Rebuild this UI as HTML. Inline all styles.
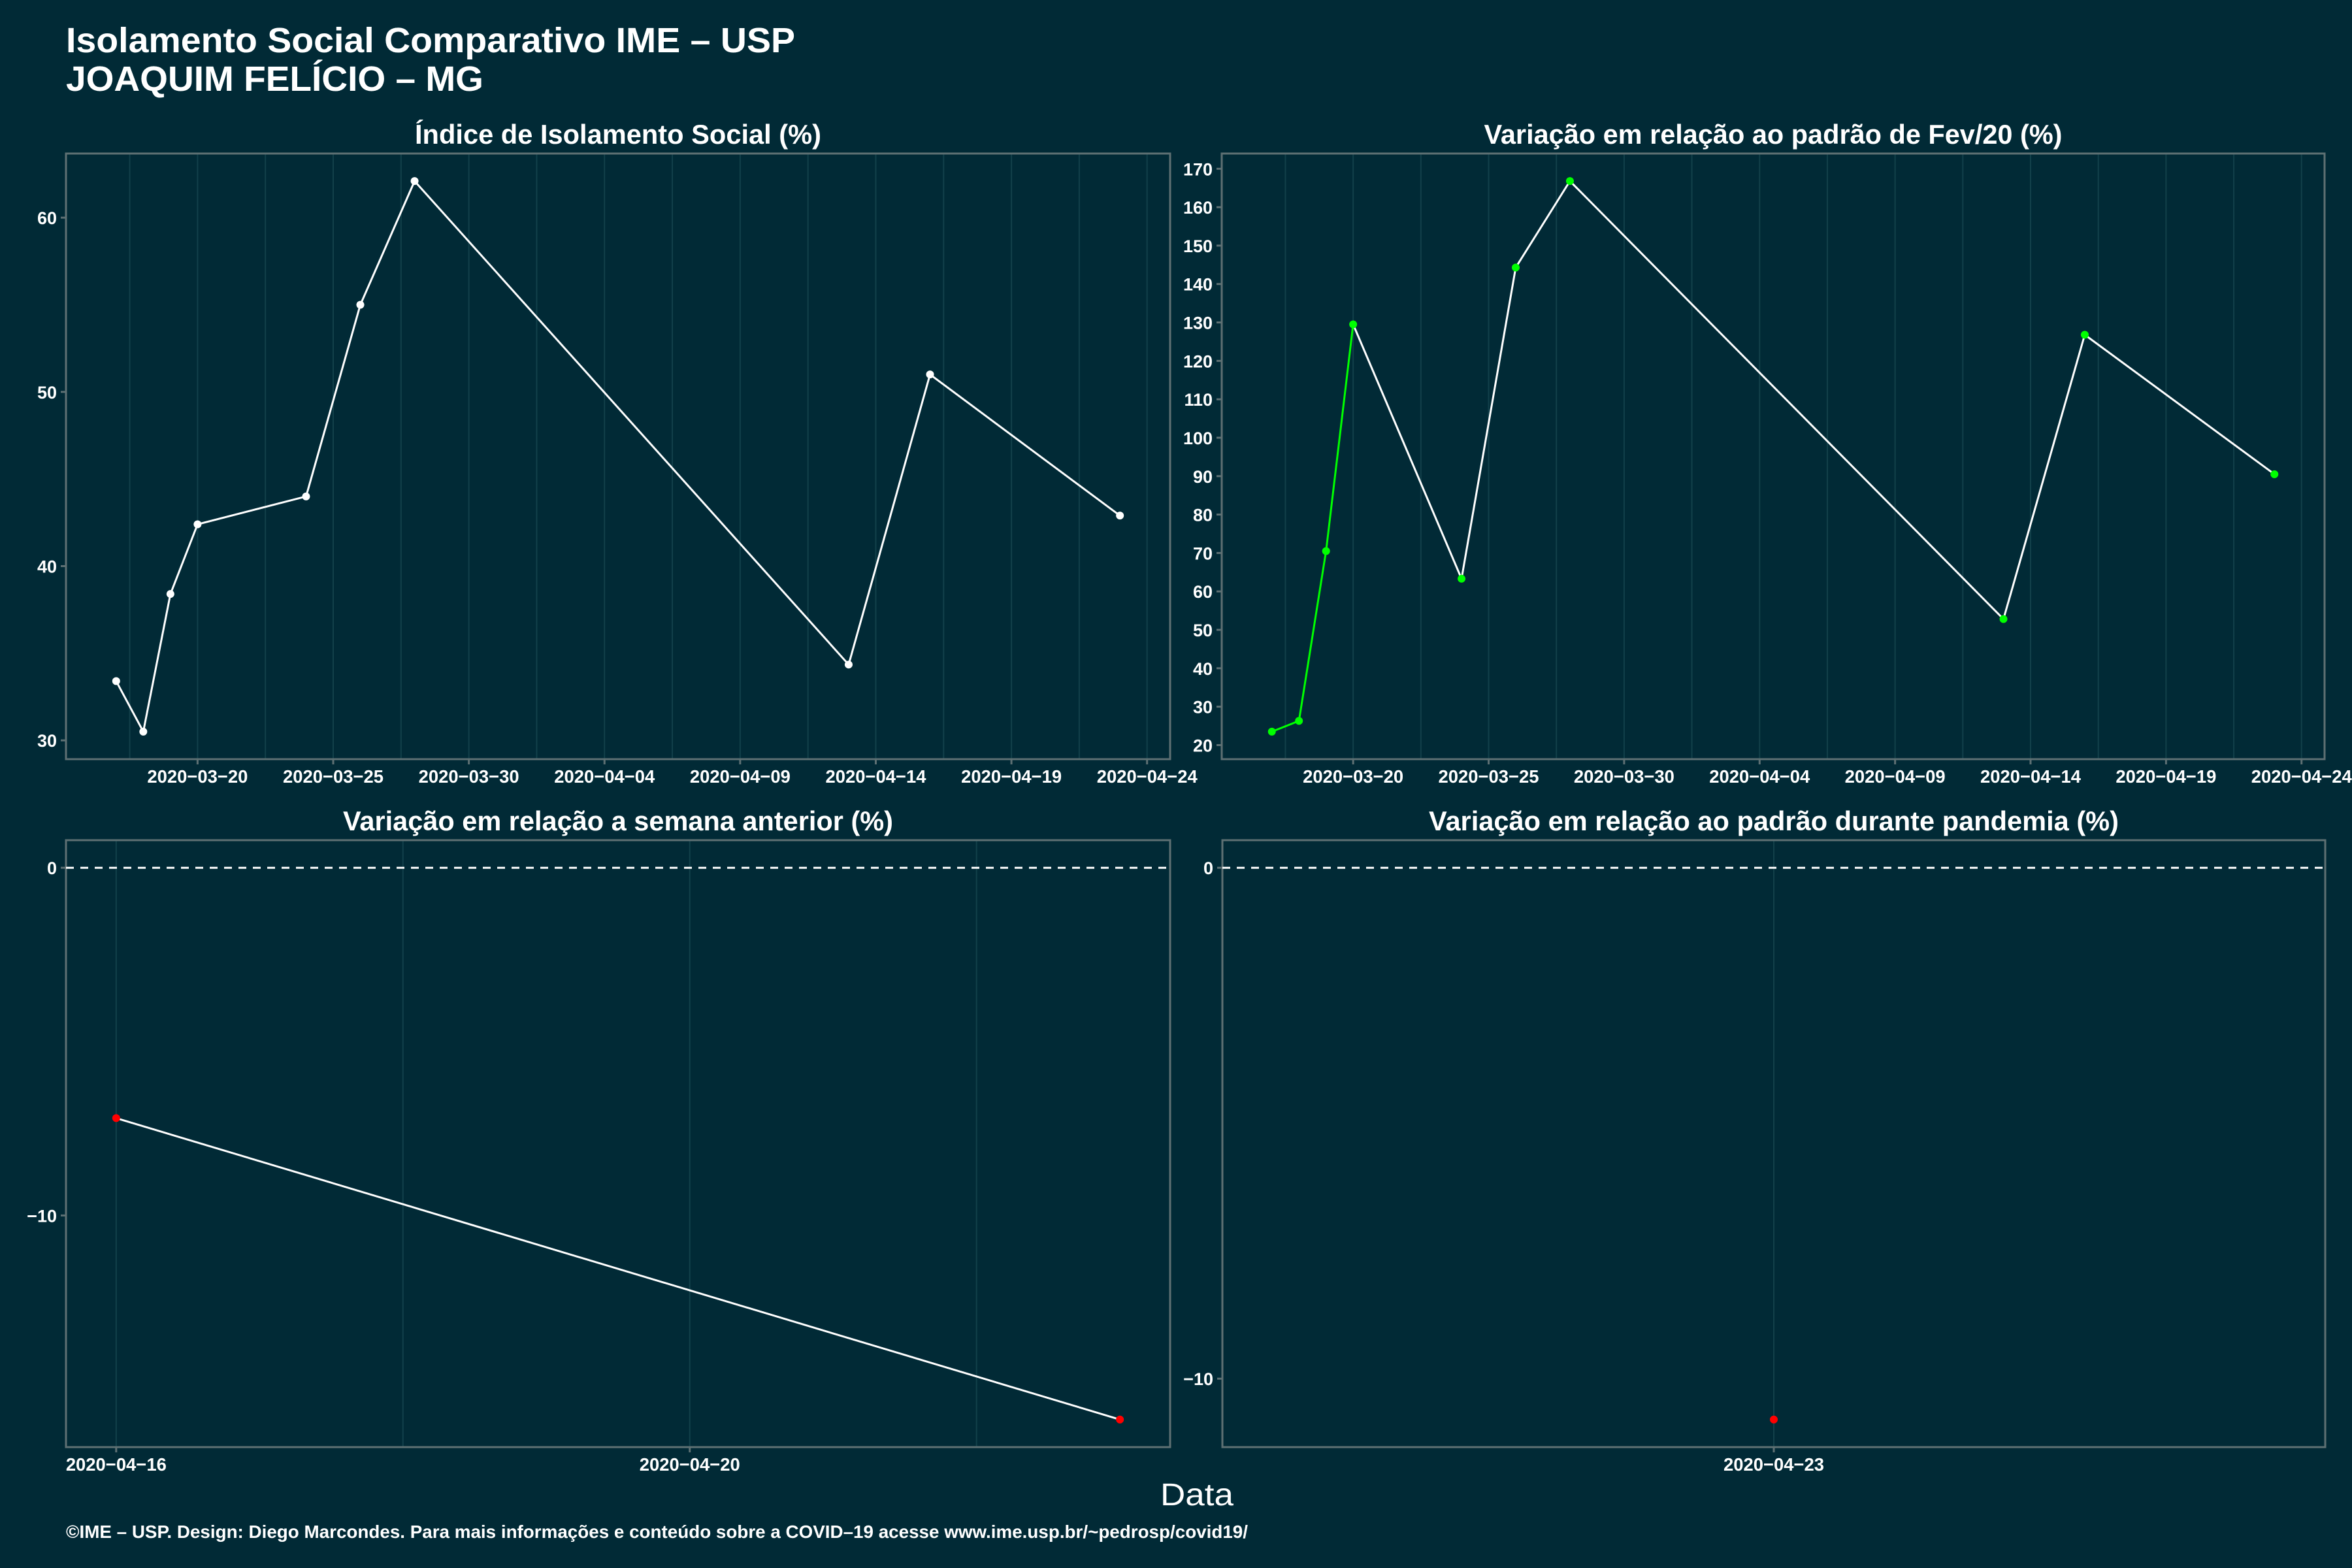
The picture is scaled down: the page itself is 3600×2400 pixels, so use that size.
<!DOCTYPE html>
<html><head><meta charset="utf-8"><style>
html,body{margin:0;padding:0;background:#012a36;}
svg{display:block;font-family:"Liberation Sans",sans-serif;}
</style></head><body>
<svg id="c" width="3600" height="2400" viewBox="0 0 3600 2400" xmlns="http://www.w3.org/2000/svg">
<rect x="0" y="0" width="3600" height="2400" fill="#012a36"/>
<text x="101" y="80" font-size="54" font-weight="bold" fill="#fff" textLength="1116" lengthAdjust="spacingAndGlyphs">Isolamento Social Comparativo IME – USP</text>
<text x="101" y="139" font-size="54" font-weight="bold" fill="#fff" textLength="639" lengthAdjust="spacingAndGlyphs">JOAQUIM FELÍCIO – MG</text>
<text x="1832" y="2304" font-size="48" fill="#fff" text-anchor="middle" textLength="112" lengthAdjust="spacingAndGlyphs">Data</text>
<text x="101" y="2354" font-size="28" font-weight="bold" fill="#fff" textLength="1809" lengthAdjust="spacingAndGlyphs">©IME – USP. Design: Diego Marcondes. Para mais informações e conteúdo sobre a COVID–19 acesse www.ime.usp.br/~pedrosp/covid19/</text>
</svg>
<script>
// Panel 1: Índice de Isolamento Social
const p1Dates = ["2020-03-17","2020-03-18","2020-03-19","2020-03-20","2020-03-24","2020-03-26","2020-03-28","2020-04-13","2020-04-16","2020-04-23"];
const p1Values = [33.4, 30.5, 38.4, 42.4, 44.0, 55.0, 62.1, 34.35, 51.0, 42.9];
const p1YTicks = [30, 40, 50, 60];
// Panel 2: Variação Fev/20
const p2Dates = p1Dates;
const p2Values = [23.5, 26.3, 70.5, 129.5, 63.3, 144.3, 166.8, 52.8, 126.8, 90.5];
const p2GreenCount = 4;
const p2YTicks = [20,30,40,50,60,70,80,90,100,110,120,130,140,150,160,170];
const topXTicks = ["2020-03-20","2020-03-25","2020-03-30","2020-04-04","2020-04-09","2020-04-14","2020-04-19","2020-04-24"];
// Panel 3: semana anterior
const p3Dates = ["2020-04-16","2020-04-23"];
const p3Values = [-7.2, -15.87];
const p3XTicks = ["2020-04-16","2020-04-20"];
const p3YTicks = [0, -10];
// Panel 4: padrão pandemia
const p4Dates = ["2020-04-23"];
const p4Values = [-10.8];
const p4XTicks = ["2020-04-23"];
const p4YTicks = [0, -10];

const NS = "http://www.w3.org/2000/svg";
const svg = document.getElementById("c");
const day = s => Date.parse(s + "T00:00:00Z") / 86400000;
function mk(tag, attrs, parent) {
  const e = document.createElementNS(NS, tag);
  for (const k in attrs) e.setAttribute(k, attrs[k]);
  (parent || svg).appendChild(e);
  return e;
}
function expand(lo, hi) { const r = hi - lo; const m = r === 0 ? 0.5 : r * 0.05; return [lo - m, hi + m]; }

function panel(o) {
  const g = mk("g", {});
  
  
  const ds = o.dates.map(day);
  let xd;
  if (ds.length === 1) xd = [ds[0] - 1, ds[0] + 1];
  else xd = expand(Math.min(...ds), Math.max(...ds));
  const yv = o.values.concat(o.hline !== undefined ? [o.hline] : []);
  const yd = expand(Math.min(...yv), Math.max(...yv));
  const X = d => o.x0 + (d - xd[0]) / (xd[1] - xd[0]) * (o.x1 - o.x0);
  const Y = v => o.y1 - (v - yd[0]) / (yd[1] - yd[0]) * (o.y1 - o.y0);
  // grid
  const major = o.xticks.map(day);
  const grid = [];
  if (major.length > 1) {
    const step = major[1] - major[0];
    for (let d = major[0] - step * 3; d <= xd[1]; d += step / 2) if (d >= xd[0]) grid.push(d);
  } else grid.push(major[0]);
  grid.forEach(d => {
    const l = mk("line", {x1: X(d), x2: X(d), y1: o.y0, y2: o.y1, stroke: "#12404a", "stroke-width": 2}, g);
    
    
  });
  // border
  const b = mk("rect", {x: o.x0, y: o.y0, width: o.x1 - o.x0, height: o.y1 - o.y0, fill: "none", stroke: "#5e7073", "stroke-width": 3}, g);
  
  
  // title
  const t = mk("text", {x: (o.x0 + o.x1) / 2, y: o.y0 - 15, "font-size": 42, "font-weight": "bold", fill: "#fff", "text-anchor": "middle", textLength: o.tlen, lengthAdjust: "spacingAndGlyphs"}, g);
  t.textContent = o.title;
  
  
  // y ticks
  o.yticks.forEach(v => {
    const tk = mk("line", {x1: o.x0 - 8, x2: o.x0, y1: Y(v), y2: Y(v), stroke: "#5e7073", "stroke-width": 3}, g);
    
    
    const tx = mk("text", {x: o.x0 - 14, y: Y(v) + 10, "font-size": 27, "font-weight": "bold", fill: "#fff", "text-anchor": "end"}, g);
    tx.textContent = v < 0 ? "−" + Math.abs(v) : String(v);
    
    
  });
  // x ticks
  o.xticks.forEach(s => {
    const d = day(s);
    const tk = mk("line", {x1: X(d), x2: X(d), y1: o.y1, y2: o.y1 + 8, stroke: "#5e7073", "stroke-width": 3}, g);
    
    
    const tx = mk("text", {x: X(d), y: o.y1 + 36, "font-size": 28, "font-weight": "bold", fill: "#fff", "text-anchor": "middle", textLength: 154, lengthAdjust: "spacingAndGlyphs"}, g);
    tx.textContent = s.replace(/-/g, "−");
    
    
  });
  if (o.hline !== undefined) {
    const h = mk("line", {x1: o.x0, x2: o.x1, y1: Y(o.hline), y2: Y(o.hline), stroke: "#fff", "stroke-width": 3, "stroke-dasharray": "12 10"}, g);
    
    
  }
  // line
  const pts = ds.map((d, i) => [X(d), Y(o.values[i])]);
  const gc = o.greenCount || 0;
  if (pts.length > 1) {
    const wp = pts.slice(Math.max(0, gc - 1));
    const wl = mk("polyline", {points: wp.map(p => p.join(",")).join(" "), fill: "none", stroke: "#fff", "stroke-width": 3}, g);
    
    
    if (gc > 1) {
      const gl = mk("polyline", {points: pts.slice(0, gc).map(p => p.join(",")).join(" "), fill: "none", stroke: "#00ff00", "stroke-width": 3}, g);
      
      
    }
  }
  pts.forEach(p => {
    const c = mk("circle", {cx: p[0], cy: p[1], r: 6, fill: o.pointColor}, g);
    
    
  });
}

panel({name: "panel-isolation-index", x0: 101, x1: 1791, y0: 235, y1: 1162, dates: p1Dates, values: p1Values, yticks: p1YTicks, xticks: topXTicks, title: "Índice de Isolamento Social (%)", tlen: 622, pointColor: "#fff"});
panel({name: "panel-variation-feb", x0: 1870, x1: 3558, y0: 235, y1: 1162, dates: p2Dates, values: p2Values, yticks: p2YTicks, xticks: topXTicks, title: "Variação em relação ao padrão de Fev/20 (%)", tlen: 885, pointColor: "#00ff00", greenCount: p2GreenCount});
panel({name: "panel-variation-week", x0: 101, x1: 1791, y0: 1286, y1: 2215, dates: p3Dates, values: p3Values, yticks: p3YTicks, xticks: p3XTicks, title: "Variação em relação a semana anterior (%)", tlen: 842, pointColor: "#ff0000", hline: 0});
panel({name: "panel-variation-pandemic", x0: 1871, x1: 3559, y0: 1286, y1: 2215, dates: p4Dates, values: p4Values, yticks: p4YTicks, xticks: p4XTicks, title: "Variação em relação ao padrão durante pandemia (%)", tlen: 1056, pointColor: "#ff0000", hline: 0});
</script>
</body></html>
